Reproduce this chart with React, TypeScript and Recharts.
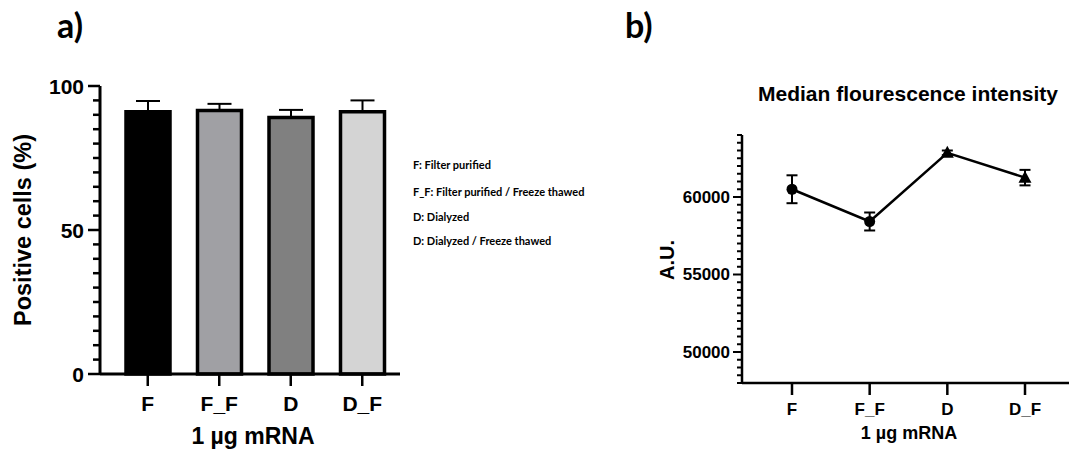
import React from 'react';
import { BarChart, Bar, Cell, XAxis, YAxis, ErrorBar, LineChart, Line } from 'recharts';

const categories = ['F', 'F_F', 'D', 'D_F'];
const positiveCells = [91.1, 91.5, 89.1, 91.1];
const positiveCellsErr = [3.7, 2.3, 2.6, 3.9];
const mfiValues = [60500, 58420, 62850, 61250];
const mfiErr = [900, 580, 150, 500];

const leftMajorTicks = [0, 50, 100];
const leftAllTicks = [0, 5, 10, 15, 20, 25, 30, 35, 40, 45, 50, 55, 60, 65, 70, 75, 80, 85, 90, 95, 100];
const rightMajorTicks = [50000, 55000, 60000];
const rightAllTicks = [
  48000, 48500, 49000, 49500, 50000, 50500, 51000, 51500, 52000, 52500, 53000,
  53500, 54000, 54500, 55000, 55500, 56000, 56500, 57000, 57500, 58000, 58500,
  59000, 59500, 60000, 60500, 61000, 61500, 62000, 62500, 63000, 63500, 64000,
];
const legendLines = [
  'F: Filter purified',
  'F_F: Filter purified / Freeze thawed',
  'D: Dialyzed',
  'D: Dialyzed / Freeze thawed',
];

const barFills: Record<string, string> = { F: '#000000', F_F: '#a0a0a4', D: '#808080', D_F: '#d4d4d4' };
const markerShapes: Record<string, string> = { F: 'circle', F_F: 'circle', D: 'triangle', D_F: 'triangle' };

const barData = categories.map((c, i) => ({ cat: c, value: positiveCells[i], err: [0, positiveCellsErr[i]] }));
const lineData = categories.map((c, i) => ({ cat: c, value: mfiValues[i], err: mfiErr[i] }));

const FONT = "'Liberation Sans', Arial, sans-serif";

const makeYTick = (majors: number[], majorLen: number, minorLen: number, gap: number, fontSize: number, sw: number) =>
  (props: any) => {
    const { x, y, payload } = props;
    const isMajor = majors.includes(payload.value);
    const len = isMajor ? majorLen : minorLen;
    return (
      <g>
        <line x1={x - len} x2={x} y1={y} y2={y} stroke="#000" strokeWidth={sw} />
        {isMajor && (
          <text x={x - len - gap} y={y} textAnchor="end" dominantBaseline="central" fontSize={fontSize} fontWeight="bold" fontFamily={FONT} fill="#000">
            {payload.value}
          </text>
        )}
      </g>
    );
  };

const LeftYTick = makeYTick(leftMajorTicks, 12, 7, 4, 21, 2.5);
const RightYTick = makeYTick(rightMajorTicks, 9, 5, 3, 17, 2);

const renderDot = (props: any) => {
  const { cx, cy, index, payload } = props;
  const shape = markerShapes[payload.cat];
  if (shape === 'circle') return <circle key={index} cx={cx} cy={cy} r={5.5} fill="#000" />;
  return <path key={index} d={`M${cx},${cy - 7} L${cx + 6.5},${cy + 5} L${cx - 6.5},${cy + 5} Z`} fill="#000" />;
};

export default function App() {
  return (
    <div style={{ position: 'absolute', left: 0, top: 0, width: 1069, height: 453, background: '#fff' }}>
      <div style={{ position: 'absolute', left: 0, top: 0 }}>
        <BarChart width={420} height={453} data={barData} margin={{ top: 86, right: 20, bottom: 0, left: 0 }}>
          <XAxis
            dataKey="cat"
            padding={{ left: 12, right: 2 }}
            height={79}
            tickSize={12}
            tickMargin={10}
            axisLine={{ stroke: '#000', strokeWidth: 3 }}
            tickLine={{ stroke: '#000', strokeWidth: 2.5 }}
            tick={{ fill: '#000', fontSize: 21, fontWeight: 'bold', fontFamily: FONT }}
            label={{
              content: () => (
                <text x={253} y={444} textAnchor="middle" fontSize={23} fontWeight="bold" fontFamily={FONT} fill="#000">
                  1 µg mRNA
                </text>
              ),
            }}
          />
          <YAxis
            domain={[0, 100]}
            ticks={leftAllTicks}
            interval={0}
            width={100}
            tickSize={0}
            tickMargin={0}
            tickLine={false}
            axisLine={{ stroke: '#000', strokeWidth: 3 }}
            tick={LeftYTick}
            label={{
              content: () => (
                <text x={31} y={230} transform="rotate(-90 31 230)" textAnchor="middle" fontSize={23.5} fontWeight="bold" fontFamily={FONT} fill="#000">
                  Positive cells (%)
                </text>
              ),
            }}
          />
          <Bar dataKey="value" barSize={44} stroke="#000" strokeWidth={3.5} isAnimationActive={false}>
            {barData.map((d) => (
              <Cell key={d.cat} fill={barFills[d.cat]} />
            ))}
            <ErrorBar dataKey="err" width={12} strokeWidth={2} stroke="#000" direction="y" />
          </Bar>
        </BarChart>
      </div>
      <div style={{ position: 'absolute', left: 640, top: 0 }}>
        <LineChart width={429} height={453} data={lineData} margin={{ top: 135, right: 0, bottom: 0, left: 0 }}>
          <XAxis
            dataKey="cat"
            scale="point"
            padding={{ left: 50, right: 44 }}
            height={70}
            tickSize={12}
            tickMargin={8}
            axisLine={{ stroke: '#000', strokeWidth: 2.5 }}
            tickLine={{ stroke: '#000', strokeWidth: 2.5 }}
            tick={{ fill: '#000', fontSize: 17, fontWeight: 'bold', fontFamily: FONT }}
            label={{
              content: () => (
                <text x={269} y={439} textAnchor="middle" fontSize={18} fontWeight="bold" fontFamily={FONT} fill="#000">
                  1 µg mRNA
                </text>
              ),
            }}
          />
          <YAxis
            domain={[48000, 64000]}
            ticks={rightAllTicks}
            interval={0}
            width={102}
            tickSize={0}
            tickMargin={0}
            tickLine={false}
            axisLine={{ stroke: '#000', strokeWidth: 2.5 }}
            tick={RightYTick}
            label={{
              content: () => (
                <text x={34} y={260} transform="rotate(-90 34 260)" textAnchor="middle" fontSize={20} fontWeight="bold" fontFamily={FONT} fill="#000">
                  A.U.
                </text>
              ),
            }}
          />
          <Line dataKey="value" stroke="#000" strokeWidth={2.5} dot={renderDot} isAnimationActive={false}>
            <ErrorBar dataKey="err" width={5.5} strokeWidth={2} stroke="#000" direction="y" />
          </Line>
        </LineChart>
      </div>
      <svg width={1069} height={453} style={{ position: 'absolute', left: 0, top: 0, pointerEvents: 'none' }}>
        <text x={57} y={38} fontSize={34} fontWeight="bold" fontFamily="Lato, sans-serif" fill="#000">a)</text>
        <text x={625} y={38} fontSize={34} fontWeight="bold" fontFamily="Lato, sans-serif" fill="#000">b)</text>
        {legendLines.map((t, i) => (
          <text key={i} x={413} y={[169, 196, 221, 245][i]} fontSize={11} fontWeight="bold" fontFamily="Lato, sans-serif" fill="#000">
            {t}
          </text>
        ))}
        <text x={908} y={101} textAnchor="middle" fontSize={21} fontWeight="bold" fontFamily={FONT} fill="#000">
          Median flourescence intensity
        </text>
      </svg>
    </div>
  );
}
